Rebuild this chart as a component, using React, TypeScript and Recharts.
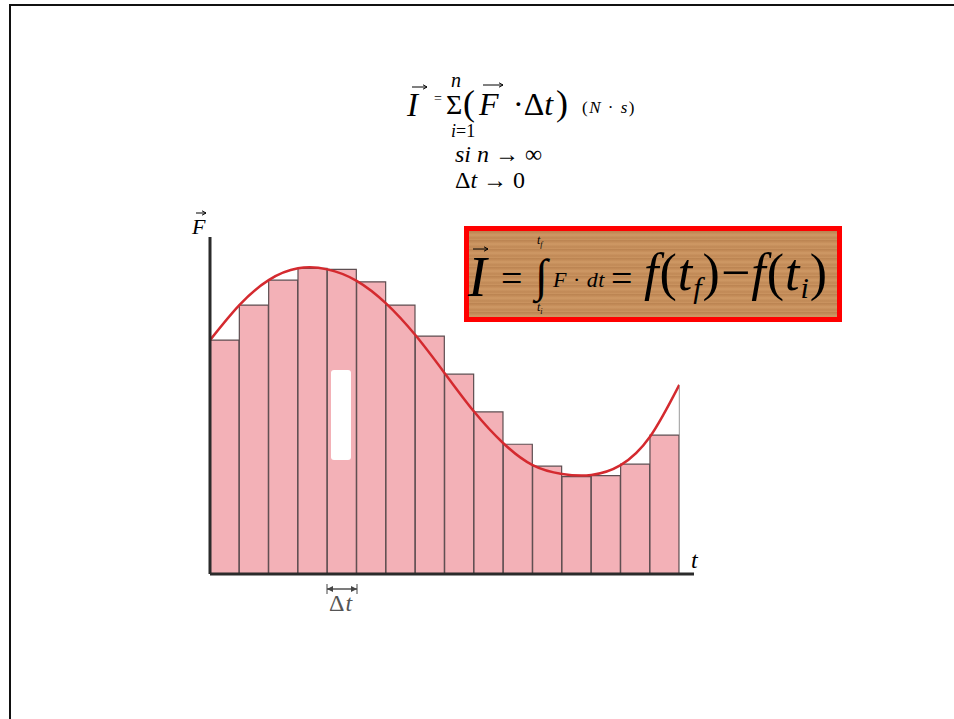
import React from 'react';
import { ComposedChart, Bar, Line, XAxis, YAxis, ReferenceLine } from 'recharts';

// Riemann-Rechtecke (linke Endpunkte) und Kurve F(t)
const intervals = ['1', '2', '3', '4', '5', '6', '7', '8', '9', '10', '11', '12', '13', '14', '15', '16'];
const barValues = [6.94, 7.98, 8.72, 9.07, 9.04, 8.67, 7.98, 7.06, 5.93, 4.81, 3.85, 3.2, 2.89, 2.92, 3.26, 4.12];
const curveT = [0, 1, 2, 3, 4, 5, 6, 7, 8, 9, 10, 11, 12, 13, 14, 15, 16];
const curveValues = [6.94, 7.98, 8.72, 9.07, 9.04, 8.7, 8.03, 7.09, 5.96, 4.82, 3.88, 3.23, 2.97, 2.94, 3.23, 4.07, 5.61];

const barData = intervals.map((k, i) => ({ k, f: barValues[i] }));
const curveData = curveT.map((t, i) => ({ t, f: curveValues[i] }));

const SERIF = '"Liberation Serif", "Times New Roman", Times, serif';

const T: React.FC<{ left: number; top: number; size: number; italic?: boolean; color?: string; ls?: number; children: React.ReactNode }> = ({ left, top, size, italic, color, ls, children }) => (
  <div
    style={{
      position: 'absolute', left, top, fontSize: size, lineHeight: 1, fontFamily: SERIF,
      fontStyle: italic ? 'italic' : 'normal', color: color || '#000', whiteSpace: 'nowrap',
      letterSpacing: ls || 0,
    }}
  >
    {children}
  </div>
);

const Arrow: React.FC<{ x: number; y: number; w: number; color?: string }> = ({ x, y, w, color = '#000' }) => (
  <svg style={{ position: 'absolute', left: x, top: y - 3 }} width={w + 1} height={6}>
    <line x1={0} y1={3} x2={w} y2={3} stroke={color} strokeWidth={1} />
    <path d={`M${w - 4},0.8 L${w},3 L${w - 4},5.2`} fill="none" stroke={color} strokeWidth={1} />
  </svg>
);

const wood =
  'repeating-linear-gradient(180deg, rgba(120,70,30,0.18) 0px, rgba(120,70,30,0.05) 2px, rgba(255,220,170,0.12) 4px, rgba(120,70,30,0.1) 7px, rgba(255,220,170,0.08) 9px), #c8905c';

export default function App() {
  return (
    <div style={{ position: 'absolute', left: 0, top: 0, width: 954, height: 719, overflow: 'hidden', background: '#fff' }}>
      {/* Folienrahmen */}
      <div style={{ position: 'absolute', left: 9, top: 4, width: 960, height: 730, borderTop: '2.5px solid #111', borderLeft: '2.5px solid #111' }} />

      <div style={{ position: 'absolute', left: 0, top: 0 }}>
        <ComposedChart
          width={954}
          height={719}
          data={barData}
          margin={{ top: 237, left: 150, right: 260, bottom: 115 }}
          barCategoryGap={0}
          barGap={0}
        >
          <XAxis
            xAxisId="bars"
            dataKey="k"
            height={30}
            tick={false}
            tickLine={false}
            axisLine={{ stroke: '#2b2b2b', strokeWidth: 3 }}
            padding={{ left: 0, right: 14.7 }}
          />
          <XAxis
            xAxisId="line"
            dataKey="t"
            type="number"
            domain={[0, 16]}
            hide
            allowDataOverflow
            padding={{ left: 0, right: 14.7 }}
          />
          <YAxis
            width={60}
            domain={[0, 10]}
            allowDataOverflow
            tick={false}
            tickLine={false}
            axisLine={{ stroke: '#2b2b2b', strokeWidth: 3 }}
          />
          <Bar
            xAxisId="bars"
            dataKey="f"
            fill="#f3b1b7"
            stroke="#5e4e51"
            strokeWidth={1.2}
            isAnimationActive={false}
          />
          <ReferenceLine
            xAxisId="line"
            segment={[{ x: 16, y: barValues[15] }, { x: 16, y: curveValues[16] }]}
            stroke="#999"
            strokeWidth={1}
          />
          <Line
            xAxisId="line"
            data={curveData}
            dataKey="f"
            type="natural"
            dot={false}
            stroke="#d42a2f"
            strokeWidth={2.5}
            isAnimationActive={false}
          />
        </ComposedChart>
      </div>

      {/* weisser Fleck im 5. Balken */}
      <div style={{ position: 'absolute', left: 331, top: 370, width: 20, height: 90, background: '#fff', borderRadius: 3 }} />

      {/* Achsenbeschriftungen */}
      <Arrow x={196} y={213} w={10} />
      <T left={192} top={216} size={22} italic>F</T>
      <T left={691} top={548} size={24} italic>t</T>

      {/* Δt */}
      <svg style={{ position: 'absolute', left: 325, top: 583 }} width={36} height={12}>
        <line x1={2} y1={6} x2={32} y2={6} stroke="#444" strokeWidth={1.4} />
        <line x1={2} y1={1} x2={2} y2={11} stroke="#444" strokeWidth={1} />
        <line x1={32} y1={1} x2={32} y2={11} stroke="#444" strokeWidth={1} />
        <path d="M2,6 L8,3 L8,9 Z" fill="#444" />
        <path d="M32,6 L26,3 L26,9 Z" fill="#444" />
      </svg>
      <T left={329} top={591} size={24} color="#555" ls={1}>Δ<i>t</i></T>

      {/* Summenformel */}
      <Arrow x={412} y={87} w={15} />
      <T left={407} top={89} size={33} italic>I</T>
      <T left={434} top={92} size={14}>=</T>
      <T left={451} top={70} size={20} italic>n</T>
      <T left={446} top={91} size={28}>Σ</T>
      <T left={451} top={122} size={18}><i>i</i>=1</T>
      <T left={463} top={85} size={36}>(</T>
      <Arrow x={483} y={85} w={20} />
      <T left={479} top={88} size={32} italic>F</T>
      <T left={513} top={88} size={32}>·Δ<i>t</i></T>
      <T left={556} top={85} size={36}>)</T>
      <T left={582} top={99} size={17} ls={1.5}>(<i>N</i> · <i>s</i>)</T>
      <T left={455} top={142} size={24}><i>si n</i> → ∞</T>
      <T left={455} top={168} size={24}>Δ<i>t</i> → 0</T>

      {/* Holzkasten mit Integral */}
      <div
        style={{
          position: 'absolute', left: 464, top: 226, width: 378, height: 96, boxSizing: 'border-box',
          border: '5px solid #ff0000', background: wood,
        }}
      />
      <Arrow x={473} y={249} w={15} />
      <T left={468} top={249} size={56} italic>I</T>
      <T left={501} top={259} size={38}>=</T>
      <T left={535} top={253} size={46}>∫</T>
      <T left={537} top={234} size={12} italic>t<sub style={{ fontSize: 8 }}>f</sub></T>
      <T left={537} top={301} size={12} italic>t<sub style={{ fontSize: 8 }}>i</sub></T>
      <T left={553} top={269} size={22} ls={0.5}><i>F</i> · <i>dt</i></T>
      <T left={611} top={259} size={38}>=</T>
      <T left={644} top={247} size={52} ls={1}>
        <i>f</i>(<i>t</i><sub style={{ fontSize: 30, verticalAlign: '-0.25em' }}><i>f</i></sub>)−<i>f</i>(<i>t</i><sub style={{ fontSize: 30, verticalAlign: '-0.25em' }}><i>i</i></sub>)
      </T>
    </div>
  );
}
